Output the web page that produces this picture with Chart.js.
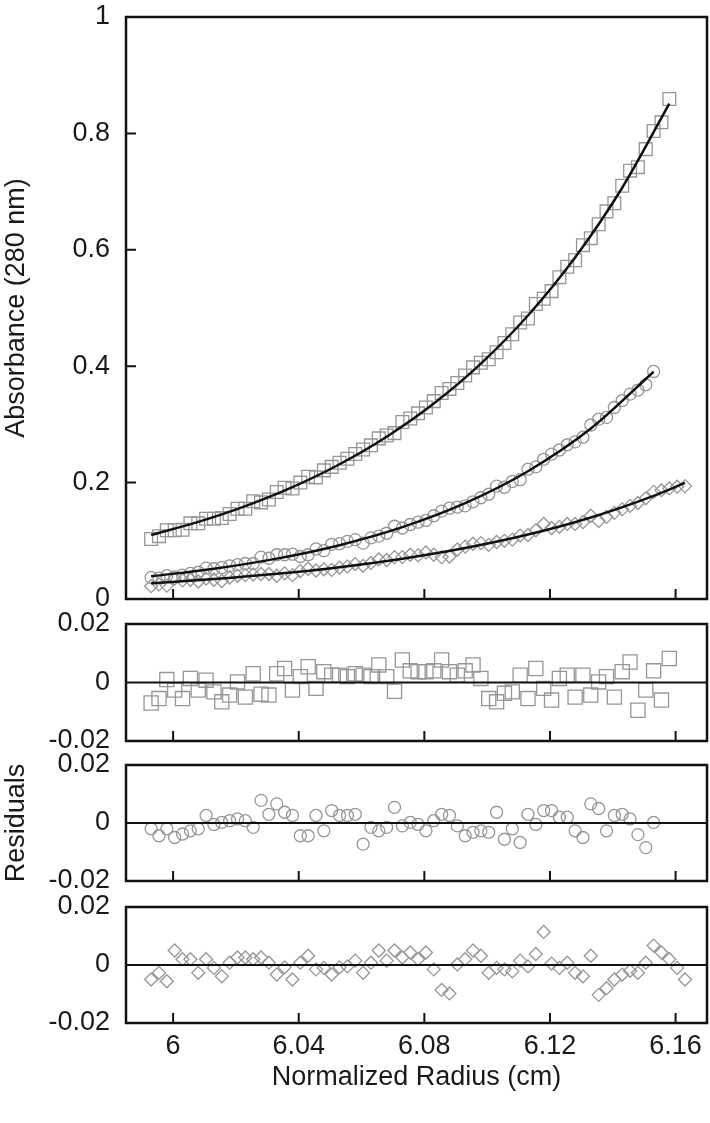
<!DOCTYPE html>
<html>
<head>
<meta charset="utf-8">
<script src="https://cdn.jsdelivr.net/npm/chart.js@4.4.1/dist/chart.umd.min.js"></script>
<style>
  body { margin: 0; background: #fff; }
  #wrap { position: relative; width: 710px; height: 1123px; }
  canvas { position: absolute; left: 0; }
</style>
</head>
<body>
<div id="wrap">
  <canvas id="mainChart" width="710" height="617" style="top:0px"></canvas>
  <canvas id="res1" width="710" height="155" style="top:604px"></canvas>
  <canvas id="res2" width="710" height="154" style="top:745px"></canvas>
  <canvas id="res3" width="710" height="236" style="top:887px"></canvas>
</div>
<script>
// normalized radius (cm) of the scan points
const radius = [
  5.993, 5.9955, 5.998, 6.0005, 6.003, 6.0055, 6.008, 6.0105, 6.013, 6.0155,
  6.018, 6.0205, 6.023, 6.0255, 6.028, 6.0305, 6.033, 6.0355, 6.038, 6.0405,
  6.043, 6.0455, 6.048, 6.0505, 6.053, 6.0555, 6.058, 6.0605, 6.063, 6.0655,
  6.068, 6.0705, 6.073, 6.0755, 6.078, 6.0805, 6.083, 6.0855, 6.088, 6.0905,
  6.093, 6.0955, 6.098, 6.1005, 6.103, 6.1055, 6.108, 6.1105, 6.113, 6.1155,
  6.118, 6.1205, 6.123, 6.1255, 6.128, 6.1305, 6.133, 6.1355, 6.138, 6.1405,
  6.143, 6.1455, 6.148, 6.1505, 6.153, 6.1555, 6.158, 6.1605, 6.163
];

// absorbance at 280 nm (squares / circles / diamonds)
const squareAbs = [
  0.103, 0.108, 0.118, 0.118, 0.119, 0.130, 0.130, 0.138, 0.138, 0.139,
  0.146, 0.155, 0.155, 0.168, 0.166, 0.171, 0.184, 0.191, 0.190, 0.200,
  0.210, 0.209, 0.221, 0.227, 0.234, 0.241, 0.249, 0.257, 0.264, 0.276,
  0.281, 0.285, 0.304, 0.310, 0.319, 0.329, 0.340, 0.354, 0.361, 0.371,
  0.384, 0.398, 0.406, 0.412, 0.424, 0.440, 0.455, 0.475, 0.482, 0.507,
  0.516, 0.529, 0.553, 0.571, 0.582, 0.608, 0.620, 0.644, 0.666, 0.680,
  0.710, 0.736, 0.742, 0.773, 0.804, 0.819, 0.859
];
const circleAbs = [
  0.037, 0.036, 0.040, 0.038, 0.041, 0.044, 0.046, 0.053, 0.052, 0.054,
  0.057, 0.059, 0.061, 0.061, 0.072, 0.070, 0.076, 0.076, 0.077, 0.073,
  0.076, 0.086, 0.083, 0.094, 0.095, 0.099, 0.102, 0.096, 0.105, 0.108,
  0.113, 0.125, 0.122, 0.128, 0.132, 0.135, 0.143, 0.151, 0.156, 0.158,
  0.160, 0.167, 0.174, 0.180, 0.194, 0.192, 0.202, 0.205, 0.223, 0.227,
  0.240, 0.249, 0.256, 0.265, 0.270, 0.278, 0.299, 0.309, 0.312, 0.329,
  0.341, 0.352, 0.359, 0.368, 0.391
];
const diamondAbs = [
  0.022, 0.025, 0.023, 0.035, 0.032, 0.033, 0.030, 0.035, 0.033, 0.031,
  0.037, 0.040, 0.041, 0.042, 0.043, 0.043, 0.040, 0.044, 0.041, 0.048,
  0.052, 0.049, 0.051, 0.050, 0.054, 0.056, 0.060, 0.057, 0.062, 0.068,
  0.067, 0.072, 0.072, 0.076, 0.075, 0.080, 0.076, 0.072, 0.073, 0.085,
  0.090, 0.095, 0.096, 0.093, 0.098, 0.100, 0.102, 0.109, 0.110, 0.118,
  0.129, 0.122, 0.124, 0.129, 0.129, 0.132, 0.143, 0.134, 0.141, 0.148,
  0.154, 0.160, 0.165, 0.173, 0.184, 0.187, 0.190, 0.193, 0.194
];

// fitted curves
const squareFitX = [5.993, 6.008, 6.023, 6.038, 6.053, 6.068, 6.083, 6.098, 6.113, 6.128, 6.143, 6.158];
const squareFit = [0.110, 0.1325, 0.1596, 0.1922, 0.2315, 0.2788, 0.3358, 0.4044, 0.4871, 0.5867, 0.7066, 0.8511];
const circleFitX = [5.993, 6.013, 6.033, 6.053, 6.073, 6.093, 6.113, 6.133, 6.153];
const circleFit = [0.039, 0.052, 0.0694, 0.0925, 0.1234, 0.1646, 0.2195, 0.2928, 0.3905];
const diamondFitX = [5.993, 6.013, 6.033, 6.053, 6.073, 6.093, 6.113, 6.133, 6.153, 6.163];
const diamondFit = [0.027, 0.0342, 0.0432, 0.0547, 0.0692, 0.0875, 0.1107, 0.1401, 0.1773, 0.1994];

// residuals
const squareRes = [
  -0.007, -0.0055, 0.001, -0.0026, -0.0055, 0.0014, -0.0026, 0.0008, -0.0032, -0.0066,
  -0.0043, 0.0002, -0.005, 0.003, -0.004, -0.0043, 0.003, 0.0048, -0.0026, 0.002,
  0.0054, -0.002, 0.0037, 0.0025, 0.0025, 0.002, 0.003, 0.0025, 0.002, 0.006,
  0.002, -0.003, 0.0077, 0.004, 0.0037, 0.0037, 0.004, 0.0077, 0.0037, 0.0025,
  0.004, 0.006, 0.0014, -0.0055, -0.0066, -0.0037, -0.0032, 0.0025, -0.0055, 0.0048,
  -0.002, -0.006, 0.0014, 0.0025, -0.005, 0.0025, -0.0043, 0.0002, 0.002, -0.005,
  0.0037, 0.007, -0.0095, -0.0026, 0.004, -0.006, 0.0082
];
const circleRes = [
  -0.002, -0.0044, -0.002, -0.005, -0.0038, -0.0027, -0.002, 0.0026, -0.0005, 0.0002,
  0.0008, 0.0014, 0.0008, -0.0015, 0.0078, 0.003, 0.0066, 0.0037, 0.0026, -0.0044,
  -0.0044, 0.0026, -0.0027, 0.0043, 0.0026, 0.0026, 0.003, -0.0073, -0.0015, -0.0027,
  -0.0015, 0.0054, -0.001, 0.0002, -0.0005, -0.0027, 0.0008, 0.003, 0.0026, -0.001,
  -0.0044, -0.0032, -0.0027, -0.0032, 0.0037, -0.0056, -0.002, -0.0067, 0.003, -0.0005,
  0.0043, 0.0043, 0.002, 0.002, -0.0027, -0.005, 0.0066, 0.005, -0.0027, 0.0026,
  0.003, 0.0014, -0.004, -0.0085, 0.0002
];
const diamondRes = [
  -0.005, -0.0027, -0.0056, 0.005, 0.002, 0.002, -0.0027, 0.002, -0.001, -0.0039,
  0.0008, 0.0026, 0.0026, 0.002, 0.0026, 0.0008, -0.0033, -0.0008, -0.005, 0.0008,
  0.0032, -0.0015, -0.001, -0.0033, -0.0008, -0.0005, 0.0015, -0.0027, 0.0008, 0.005,
  0.0015, 0.005, 0.0026, 0.0043, 0.002, 0.0043, -0.0015, -0.0086, -0.0098, 0.0002,
  0.002, 0.005, 0.0032, -0.0027, -0.001, -0.0015, -0.0022, 0.0015, -0.0005, 0.0038,
  0.0114, 0.0005, -0.001, 0.0008, -0.0027, -0.0039, 0.0032, -0.0103, -0.008, -0.005,
  -0.0033, -0.002, -0.0027, 0.0008, 0.0067, 0.0043, 0.002, -0.001, -0.005
];

// axes
const X_MIN = 5.985, X_MAX = 6.17;
const xTicks = [6, 6.04, 6.08, 6.12, 6.16];
const xTickLabels = ["6", "6.04", "6.08", "6.12", "6.16"];
const absTicks = [0, 0.2, 0.4, 0.6, 0.8, 1];
const absTickLabels = ["0", "0.2", "0.4", "0.6", "0.8", "1"];
const resTicks = [-0.02, 0, 0.02];
const resTickLabels = ["-0.02", "0", "0.02"];

Chart.defaults.font.family = "'Liberation Sans', Arial, sans-serif";
Chart.defaults.font.size = 27;
Chart.defaults.color = "#1a1a1a";

const MARK = "rgb(150, 150, 150)";

function pts(xs, ys) {
  return ys.map((y, i) => ({ x: xs[i], y: y }));
}

// box around the plot area plus inward tick marks
const framePlugin = {
  id: "frame",
  afterDatasetsDraw(chart, args, opts) {
    const { ctx, chartArea: a, scales } = chart;
    ctx.save();
    ctx.strokeStyle = "#111";
    ctx.lineWidth = 2;
    ctx.beginPath();
    xTicks.forEach((v) => {
      const px = scales.x.getPixelForValue(v);
      ctx.moveTo(px, a.bottom);
      ctx.lineTo(px, a.bottom - 10);
    });
    (opts.yInner || []).forEach((v) => {
      const py = scales.y.getPixelForValue(v);
      ctx.moveTo(a.left, py);
      ctx.lineTo(a.left + 10, py);
    });
    ctx.stroke();
    ctx.lineWidth = 2.5;
    ctx.strokeRect(a.left, a.top, a.width, a.height);
    ctx.restore();
  },
};

function xScale(show) {
  return {
    type: "linear",
    min: X_MIN,
    max: X_MAX,
    display: show,
    afterBuildTicks: (s) => { s.ticks = xTicks.map((v) => ({ value: v })); },
    afterFit: (s) => { if (show) s.height = 100; },
    grid: { display: false, drawTicks: false },
    border: { display: false },
    ticks: { padding: 7, maxRotation: 0, autoSkip: false, callback: (v, i) => xTickLabels[i] },
    title: { display: show, text: "Normalized Radius (cm)", padding: { top: 0, bottom: 29 } },
  };
}

function yScale(min, max, ticks, labels, title) {
  return {
    type: "linear",
    min: min,
    max: max,
    afterBuildTicks: (s) => { s.ticks = ticks.map((v) => ({ value: v })); },
    afterFit: (s) => { s.width = 126; },
    // hidden tick length keeps the labels 16px off the axis
    grid: { display: false, drawTicks: true, tickLength: 16 },
    border: { display: false },
    ticks: { padding: 0, autoSkip: false, callback: (v, i) => labels[i] },
    title: { display: !!title, text: title || "", padding: { top: 0, bottom: 0 } },
  };
}

function fitLine(xs, ys) {
  return {
    data: pts(xs, ys),
    showLine: true,
    borderColor: "#111",
    borderWidth: 2.5,
    pointRadius: 0,
    cubicInterpolationMode: "monotone",
    order: 1,
  };
}

function markers(ys, style, r) {
  return {
    data: pts(radius, ys),
    pointStyle: style,
    pointRadius: r,
    pointBorderColor: MARK,
    pointBackgroundColor: "rgba(0,0,0,0)",
    pointBorderWidth: 1.3,
    order: 2,
  };
}

const zeroLine = {
  data: [{ x: X_MIN, y: 0 }, { x: X_MAX, y: 0 }],
  showLine: true,
  borderColor: "#111",
  borderWidth: 2,
  pointRadius: 0,
  order: 1,
};

new Chart(document.getElementById("mainChart"), {
  type: "scatter",
  data: {
    datasets: [
      fitLine(squareFitX, squareFit),
      fitLine(circleFitX, circleFit),
      fitLine(diamondFitX, diamondFit),
      markers(squareAbs, "rect", 9),
      markers(circleAbs, "circle", 6),
      markers(diamondAbs, "rectRot", 6.5),
    ],
  },
  options: {
    responsive: false,
    animation: false,
    layout: { autoPadding: false, padding: { top: 17, right: 3, bottom: 18, left: 0 } },
    plugins: { legend: { display: false }, tooltip: { enabled: false }, frame: { yInner: [0.2, 0.4, 0.6, 0.8] } },
    scales: { x: xScale(false), y: yScale(0, 1, absTicks, absTickLabels, "Absorbance (280 nm)") },
  },
  plugins: [framePlugin],
});

function residualChart(id, res, style, r, title, showX, pad) {
  new Chart(document.getElementById(id), {
    type: "scatter",
    data: { datasets: [zeroLine, markers(res, style, r)] },
    options: {
      responsive: false,
      animation: false,
      layout: { autoPadding: false, padding: pad },
      plugins: { legend: { display: false }, tooltip: { enabled: false }, frame: {} },
      scales: { x: xScale(showX), y: yScale(-0.02, 0.02, resTicks, resTickLabels, title) },
    },
    plugins: [framePlugin],
  });
}

residualChart("res1", squareRes, "rect", 10, "", false, { top: 20, right: 3, bottom: 18, left: 0 });
residualChart("res2", circleRes, "circle", 6, "Residuals", false, { top: 20, right: 3, bottom: 18, left: 0 });
residualChart("res3", diamondRes, "rectRot", 6.5, "", true, { top: 20, right: 3, bottom: 0, left: 0 });
</script>
</body>
</html>
